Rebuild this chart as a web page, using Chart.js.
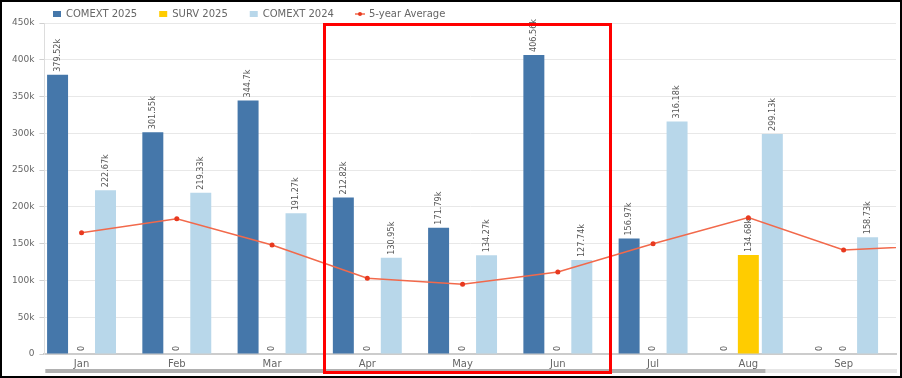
<!DOCTYPE html>
<html>
<head>
<meta charset="utf-8">
<title>COMEXT / SURV monthly</title>
<script src="https://cdn.jsdelivr.net/npm/chart.js@4.4.1/dist/chart.umd.min.js"></script>
<style>
    body { margin: 0; background: #fff; }
    #wrap { position: relative; width: 902px; height: 378px; box-sizing: border-box; border: 2px solid #000; }
    #myChart { display: block; }
    /* red highlight box drawn over the Apr-Jun groups */
    #focus { position: absolute; left: 321px; top: 21px; width: 289px; height: 351px;
             box-sizing: border-box; border: 3px solid #ff0000; pointer-events: none; }
</style>
</head>
<body>
<div id="wrap">
    <canvas id="myChart" width="898" height="374"></canvas>
    <div id="focus"></div>
</div>
<script>
const months = ['Jan', 'Feb', 'Mar', 'Apr', 'May', 'Jun', 'Jul', 'Aug', 'Sep'];
const comext2025 = [379520, 301550, 344700, 212820, 171790, 406560, 156970, 0, 0];
const surv2025 = [0, 0, 0, 0, 0, 0, 0, 134680, 0];
const comext2024 = [222670, 219330, 191270, 130950, 134270, 127740, 316180, 299130, 158730];
// the average runs on into Oct, which is scrolled off the right edge
const avg5y = [165000, 184000, 148300, 103000, 94800, 111600, 150000, 185400, 141500, 147500];

const xy = (arr) => arr.map((v, i) => ({ x: i, y: v }));

// little "line with dot" icon for the average in the legend
const avgIcon = document.createElement('canvas');
avgIcon.width = 10;
avgIcon.height = 6;
(function () {
    const c = avgIcon.getContext('2d');
    c.strokeStyle = '#f2694b';
    c.lineWidth = 1.5;
    c.beginPath();
    c.moveTo(0, 3);
    c.lineTo(10, 3);
    c.stroke();
    c.fillStyle = '#e8391f';
    c.beginPath();
    c.arc(5, 3, 2, 0, Math.PI * 2);
    c.fill();
})();

const valueLabels = {
    id: 'valueLabels',
    afterDatasetsDraw(chart) {
        const ctx = chart.ctx;
        ctx.save();
        ctx.font = "9px 'Liberation Sans Narrow', 'DejaVu Sans Condensed', sans-serif";
        ctx.fillStyle = '#555';
        ctx.textAlign = 'left';
        ctx.textBaseline = 'middle';
        chart.data.datasets.forEach((ds, i) => {
            if (ds.type !== 'bar') return;
            chart.getDatasetMeta(i).data.forEach((bar, j) => {
                const v = ds.data[j].y;
                const txt = v === 0 ? '0' : parseFloat((v / 1000).toFixed(2)) + 'k';
                ctx.save();
                ctx.translate(bar.x, bar.y - 3);
                ctx.rotate(-Math.PI / 2);
                ctx.fillText(txt, 0, 0);
                ctx.restore();
            });
        });
        ctx.restore();
    }
};

const scrollBar = {
    id: 'scrollBar',
    afterDraw(chart) {
        const ctx = chart.ctx;
        const a = chart.chartArea;
        ctx.save();
        ctx.fillStyle = '#e6e6e6';
        ctx.fillRect(a.left + 1, 367, a.right - a.left, 4);
        ctx.fillStyle = '#b0b0b0';
        ctx.fillRect(a.left + 1, 367, 720, 4);
        ctx.restore();
    }
};

// legend sits tight on top and starts over the plot, not at the canvas edge
const legendPlace = {
    id: 'legendPlace',
    afterLayout(chart) {
        chart.legend.left = 29;
        chart.legend.top = -15;
    }
};

Chart.defaults.font.family = "'DejaVu Sans', sans-serif";
Chart.defaults.color = '#666';

new Chart(document.getElementById('myChart'), {
    type: 'bar',
    data: {
        datasets: [
            { type: 'bar', label: 'COMEXT 2025', data: xy(comext2025), backgroundColor: '#4577aa', order: 1 },
            { type: 'bar', label: 'SURV 2025', data: xy(surv2025), backgroundColor: '#ffcc00', order: 1 },
            { type: 'bar', label: 'COMEXT 2024', data: xy(comext2024), backgroundColor: '#b8d7ea', order: 1 },
            {
                type: 'line', label: '5-year Average', data: xy(avg5y),
                borderColor: '#f2694b', backgroundColor: '#e8391f',
                pointBackgroundColor: '#e8391f', pointBorderWidth: 0, pointRadius: 2.5,
                borderWidth: 1.5, tension: 0, order: 0
            }
        ]
    },
    options: {
        responsive: false,
        animation: false,
        layout: { padding: { left: 5, top: 1, right: 0, bottom: 2 } },
        datasets: {
            bar: { barPercentage: 0.875, categoryPercentage: 0.755, borderWidth: 0 }
        },
        plugins: {
            tooltip: { enabled: false },
            legend: {
                align: 'start',
                maxHeight: 20,
                labels: {
                    padding: 22,
                    usePointStyle: true,
                    pointStyleWidth: 8,
                    boxHeight: 6,
                    color: '#666',
                    font: { size: 10 },
                    sort: (a, b) => a.datasetIndex - b.datasetIndex,
                    generateLabels(chart) {
                        const items = Chart.defaults.plugins.legend.labels.generateLabels(chart);
                        items.forEach((item) => {
                            item.pointStyle = item.datasetIndex === 3 ? avgIcon : 'rect';
                            item.lineWidth = 0;
                        });
                        return items;
                    }
                }
            }
        },
        scales: {
            x: {
                type: 'linear',
                bounds: 'data',
                offset: false,
                min: -0.39,
                max: 8.55,
                afterBuildTicks: (scale) => {
                    scale.ticks = months.map((m, i) => ({ value: i }));
                },
                ticks: {
                    autoSkip: false,
                    maxRotation: 0,
                    padding: 4,
                    font: { size: 10 },
                    callback: (v) => months[v]
                },
                grid: { display: false, drawTicks: false },
                border: { color: '#cccccc', width: 2 }
            },
            y: {
                min: 0,
                max: 450000,
                ticks: {
                    stepSize: 50000,
                    padding: 5,
                    font: { size: 9 },
                    callback: (v) => (v === 0 ? '0' : v / 1000 + 'k')
                },
                grid: { color: '#e8e8e8', tickColor: '#d0d0d0', tickLength: 5 },
                border: { color: '#dddddd' }
            }
        }
    },
    plugins: [valueLabels, scrollBar, legendPlace]
});
</script>
</body>
</html>
